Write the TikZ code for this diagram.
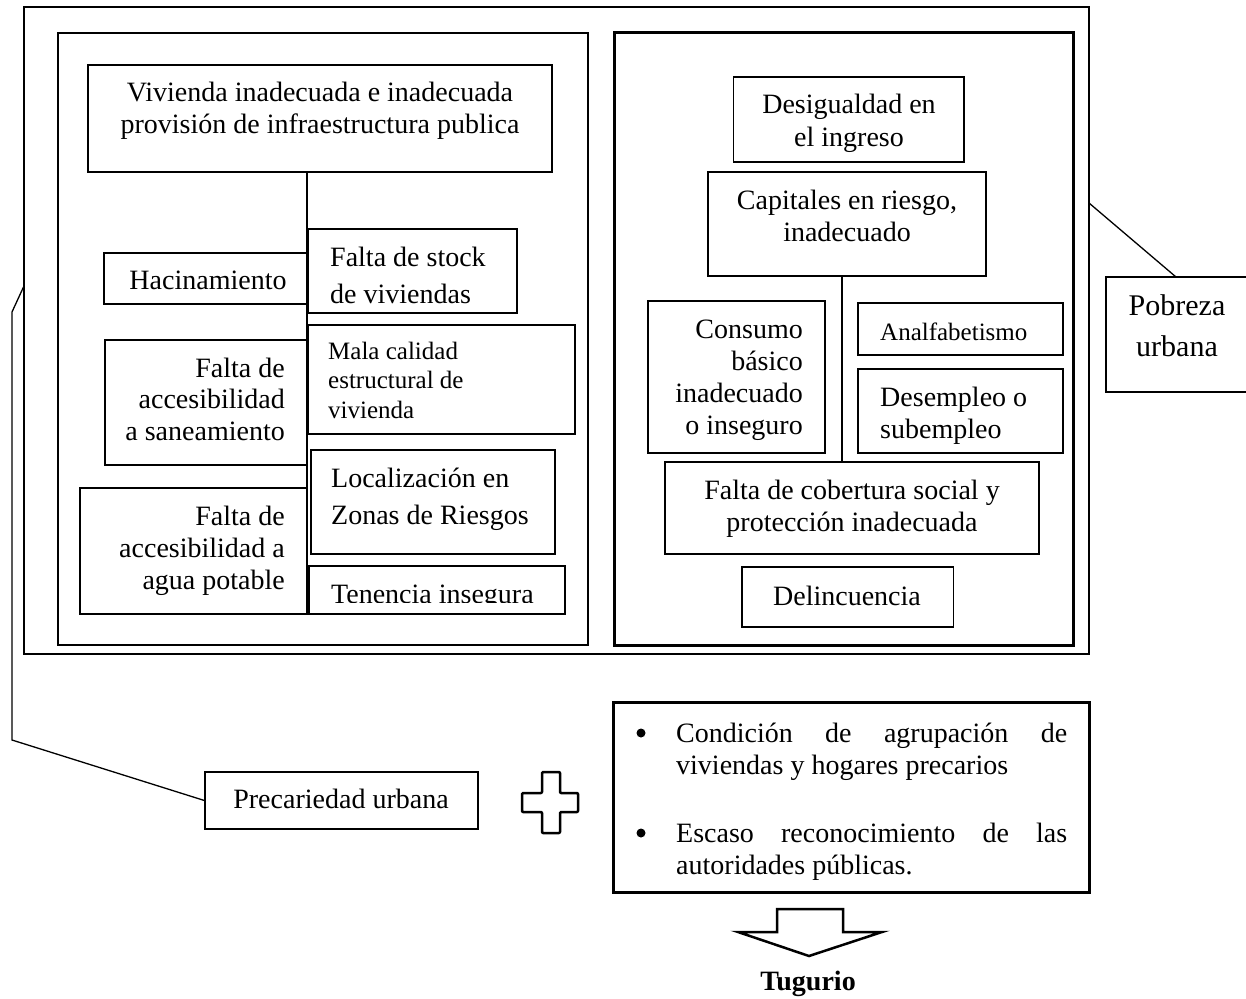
\documentclass[tikz,border=0pt]{standalone}
\usepackage{fontspec}
\setmainfont{Liberation Serif}
\usetikzlibrary{fit}
\begin{document}
\begin{tikzpicture}[x=1pt,y=-1pt,
  box/.style={draw, line width=1.2pt, inner sep=0pt, fit={#1}},
  frame/.style={draw, line width=2pt, inner sep=0pt, fit={#1}},
  heavy/.style={draw, line width=3pt, inner sep=0pt, fit={#1}},
  txt/.style={inner sep=0pt, font=\fontsize{28}{32.5}\selectfont},
  dot/.style={circle, fill, inner sep=0pt, minimum size=9pt},
  conn/.style={line width=1.3pt},
  shapeline/.style={line width=2.5pt, line join=round}]
\useasboundingbox (0,0) rectangle (1246,998);

% frames
\node[frame={(23.5,7) (1089,654)}] (outer) {};
\node[frame={(58,33) (588,645)}] (lpanel) {};
\node[heavy={(614,33) (1073,645)}] (rpanel) {};

% left panel boxes
\node[box={(88,65) (552,172)}] (viv) {};
\node[txt, text width=440, align=flush center, anchor=base] (vivt) at (320,101) {Vivienda inadecuada e inadecuada\\provisión de infraestructura publica};

\node[box={(104,253) (307,304)}] (hac) {};
\node[txt, anchor=base] (hact) at (208,289) {Hacinamiento};

\node[box={(308,229) (517,313)}] (stock) {};
\node[txt, font=\fontsize{28}{37}\selectfont, text width=185, align=flush left, anchor=base west] (stockt) at (330,266) {Falta de stock\\de viviendas};

\node[box={(308,325) (575,434)}] (mala) {};
\node[txt, font=\fontsize{25}{29.5}\selectfont, text width=240, align=flush left, anchor=base west] (malat) at (328,359) {Mala calidad\\estructural de\\vivienda};

\node[box={(105,340) (307,465)}] (san) {};
\node[txt, font=\fontsize{28}{31.5}\selectfont, text width=190, align=flush right, anchor=base east] (sant) at (285,377) {Falta de\\accesibilidad\\a saneamiento};

\node[box={(311,450) (555,554)}] (loc) {};
\node[txt, font=\fontsize{28}{37}\selectfont, text width=220, align=flush left, anchor=base west] (loct) at (331,487) {Localización en\\Zonas de Riesgos};

\node[box={(80,488) (307,614)}] (agua) {};
\node[txt, font=\fontsize{28}{32}\selectfont, text width=210, align=flush right, anchor=base east] (aguat) at (285,525) {Falta de\\accesibilidad a\\agua potable};

\node[box={(309,566) (565,614)}] (ten) {};
\begin{scope}
  \clip (309,566) rectangle (565,602);
  \node[txt, anchor=base west] (tent) at (331,603) {Tenencia insegura};
\end{scope}

\coordinate (lx) at (307,614);
\draw[conn] (viv.south -| lx) -- (lx);

% right panel boxes
\node[box={(733.5,77) (964,162)}] (des) {};
\node[txt, font=\fontsize{28}{33}\selectfont, text width=220, align=flush center, anchor=base] (dest) at (849,113) {Desigualdad en\\el ingreso};

\node[box={(708,172) (986,276)}] (cap) {};
\node[txt, font=\fontsize{28}{32}\selectfont, text width=260, align=flush center, anchor=base] (capt) at (847,209) {Capitales en riesgo,\\inadecuado};

\node[box={(648,301) (825,453)}] (con) {};
\node[txt, font=\fontsize{28}{32.3}\selectfont, text width=160, align=flush right, anchor=base east] (cont) at (803,338) {Consumo\\básico\\inadecuado\\o inseguro};

\node[box={(858,303) (1063,355)}] (ana) {};
\node[txt, font=\fontsize{25}{30}\selectfont, anchor=base west] (anat) at (880,340) {Analfabetismo};

\node[box={(858,369) (1063,453)}] (dem) {};
\node[txt, font=\fontsize{28}{32}\selectfont, text width=180, align=flush left, anchor=base west] (demt) at (880,406) {Desempleo o\\subempleo};

\node[box={(665,462) (1039,554)}] (cob) {};
\node[txt, font=\fontsize{28}{32}\selectfont, text width=360, align=flush center, anchor=base] (cobt) at (852,499) {Falta de cobertura social y\\protección inadecuada};

\node[box={(742,567) (953.5,627)}] (del) {};
\node[txt, anchor=base] (delt) at (847,605) {Delincuencia};

\coordinate (rx) at (842,462);
\draw[conn] (cap.south -| rx) -- (rx);

% Pobreza urbana
\node[box={(1106,277) (1256,392)}] (pob) {};
\node[txt, font=\fontsize{30}{41}\selectfont, text width=130, align=flush center, anchor=base] (pobt) at (1177,315) {Pobreza\\urbana};
\coordinate (oc) at (1089,203);
\coordinate (pc) at (1176,277);
\draw[conn] (oc) -- (pc);

% Precariedad urbana
\node[box={(205,772) (478,829)}] (prec) {};
\node[txt, anchor=base] (prect) at (341,808) {Precariedad urbana};
\coordinate (p1) at (23.5,287);
\coordinate (p2) at (12,312);
\coordinate (p3) at (12,740);
\draw[conn, line join=miter] (p1) -- (p2) -- (p3) -- (prec.west);

% plus sign
\draw[shapeline, rounded corners=1pt] (542,772) -- (560,772) -- (560,793) -- (578,793) -- (578,812) -- (560,812) -- (560,833) -- (542,833) -- (542,812) -- (522,812) -- (522,793) -- (542,793) -- cycle;

% bullet box
\node[heavy={(613.5,702.5) (1089.5,892.5)}] (cond) {};
\node[dot] (b1) at (641,733) {};
\node[dot] (b2) at (641,833) {};
\node[txt, font=\fontsize{28}{32}\selectfont, text width=391, align=flush left, anchor=base west] (bt1) at (676,742) {Condición\hfill de\hfill agrupación\hfill de\\viviendas y hogares precarios};
\node[txt, font=\fontsize{28}{32}\selectfont, text width=391, align=flush left, anchor=base west] (bt2) at (676,842) {Escaso\hfill reconocimiento\hfill de\hfill las\\autoridades públicas.};

% down arrow
\draw[shapeline, line join=miter] (777,909) -- (843,909) -- (843,932) -- (882,932) -- (809,956) -- (738,932) -- (777,932) -- cycle;
\node[txt, font=\fontsize{28}{32}\selectfont\bfseries, anchor=base] (tug) at (808,990) {Tugurio};
\end{tikzpicture}
\end{document}
